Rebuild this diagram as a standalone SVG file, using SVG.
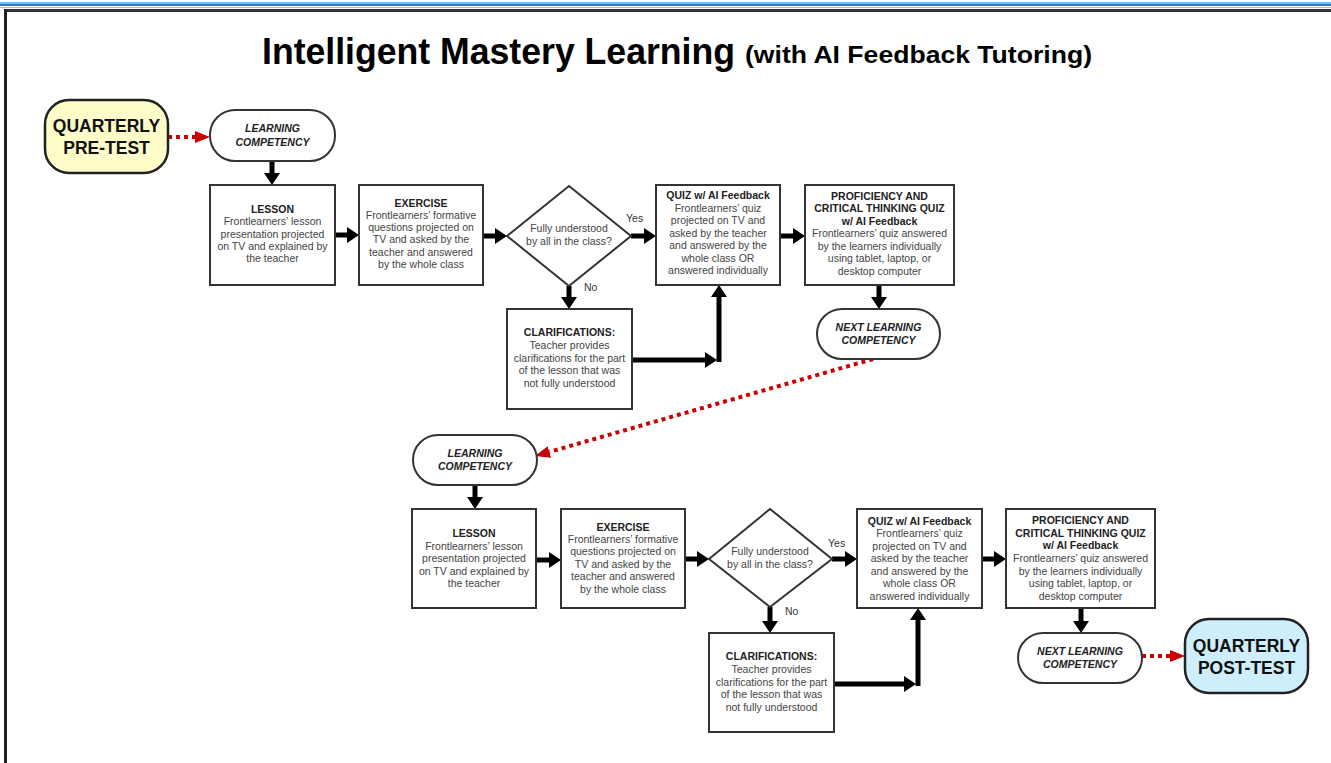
<svg xmlns="http://www.w3.org/2000/svg" width="1331" height="763" viewBox="0 0 1331 763">
<style>
.box{fill:#fff;stroke:#333;stroke-width:2}
.pill{fill:#fff;stroke:#333;stroke-width:2}
.t{font-family:"Liberation Sans",Arial,sans-serif;font-size:10.5px;fill:#444;text-anchor:middle}
.h{font-family:"Liberation Sans",Arial,sans-serif;font-size:10.5px;font-weight:bold;fill:#222;text-anchor:middle}
.hi{font-family:"Liberation Sans",Arial,sans-serif;font-size:10.5px;font-weight:bold;font-style:italic;fill:#222;text-anchor:middle}
.big{font-family:"Liberation Sans",Arial,sans-serif;font-size:17.5px;font-weight:bold;fill:#111;text-anchor:middle}
.lbl{font-family:"Liberation Sans",Arial,sans-serif;font-size:10.5px;fill:#333}
.c{stroke:#000;stroke-width:5;fill:none}
.r{stroke:#cc0000;stroke-width:4;stroke-dasharray:4 4;fill:none}
</style>
<defs>
<marker id="ah" markerUnits="userSpaceOnUse" markerWidth="12" markerHeight="16" viewBox="0 0 12 16" refX="0" refY="8" orient="auto"><path d="M0,0 L12,8 L0,16 z" fill="#000"/></marker>
<marker id="rh" markerUnits="userSpaceOnUse" markerWidth="15" markerHeight="12" viewBox="0 0 15 12" refX="0" refY="6" orient="auto"><path d="M0,0 L15,6 L0,12 z" fill="#cc0000"/></marker>
</defs>
<rect width="1331" height="763" fill="#fff"/>
<g id="frame">
<rect x="0" y="2" width="1331" height="2" fill="#7fbde8"/>
<rect x="0" y="4" width="1331" height="2" fill="#1f7fd0"/>
<rect x="0" y="7" width="1331" height="1" fill="#b0b8c0"/>
<rect x="4" y="9" width="1327" height="3" fill="#333"/>
<rect x="4" y="9" width="3" height="754" fill="#222"/>
</g>
<g id="title">
<text x="262" y="64" font-family="'Liberation Sans Narrow','Liberation Sans',Arial,sans-serif" font-size="37" font-weight="bold" fill="#000" textLength="473" lengthAdjust="spacingAndGlyphs">Intelligent Mastery Learning</text>
<text x="745" y="63" font-family="'Liberation Sans Narrow','Liberation Sans',Arial,sans-serif" font-size="24" font-weight="bold" fill="#000" textLength="347" lengthAdjust="spacingAndGlyphs">(with AI Feedback Tutoring)</text>
</g>
<g id="connectors">
<line class="r" x1="168" y1="137" x2="195" y2="137" marker-end="url(#rh)"/>
<line class="c" x1="272" y1="161" x2="272" y2="173" marker-end="url(#ah)"/>
<line class="c" x1="335" y1="235" x2="347" y2="235" marker-end="url(#ah)"/>
<line class="c" x1="483" y1="236" x2="495" y2="236" marker-end="url(#ah)"/>
<line class="c" x1="631" y1="236" x2="644" y2="236" marker-end="url(#ah)"/>
<line class="c" x1="780" y1="236" x2="793" y2="236" marker-end="url(#ah)"/>
<line class="c" x1="569" y1="286" x2="569" y2="297" marker-end="url(#ah)"/>
<line class="c" x1="632" y1="360" x2="705" y2="360" marker-end="url(#ah)"/>
<line class="c" x1="719" y1="362" x2="719" y2="297" marker-end="url(#ah)"/>
<line class="c" x1="879" y1="285" x2="879" y2="297" marker-end="url(#ah)"/>
<line class="r" x1="873" y1="359" x2="549.4" y2="451.9" marker-end="url(#rh)"/>
<line class="c" x1="475" y1="485" x2="475" y2="497" marker-end="url(#ah)"/>
<line class="c" x1="536" y1="560" x2="549" y2="560" marker-end="url(#ah)"/>
<line class="c" x1="685" y1="559" x2="697" y2="559" marker-end="url(#ah)"/>
<line class="c" x1="832" y1="559" x2="845" y2="559" marker-end="url(#ah)"/>
<line class="c" x1="982" y1="559" x2="994" y2="559" marker-end="url(#ah)"/>
<line class="c" x1="770" y1="607" x2="770" y2="621" marker-end="url(#ah)"/>
<line class="c" x1="834" y1="684" x2="904" y2="684" marker-end="url(#ah)"/>
<line class="c" x1="918" y1="686" x2="918" y2="620" marker-end="url(#ah)"/>
<line class="c" x1="1081" y1="608" x2="1081" y2="621" marker-end="url(#ah)"/>
<line class="r" x1="1142" y1="656" x2="1170" y2="656" marker-end="url(#rh)"/>
<text class="lbl" x="626" y="222">Yes</text>
<text class="lbl" x="584" y="291">No</text>
<text class="lbl" x="828" y="547">Yes</text>
<text class="lbl" x="785" y="615">No</text>
</g>
<g id="pretest">
<rect x="45" y="100" width="123" height="73" rx="24" fill="#fefcc8" stroke="#222" stroke-width="2.5"/>
<text class="big" x="106.5" y="132">QUARTERLY</text>
<text class="big" x="106.5" y="154">PRE-TEST</text>
</g>
<g id="lc1">
<rect class="pill" x="210" y="110" width="125" height="51" rx="25"/>
<text class="hi" x="272.5" y="132">LEARNING</text>
<text class="hi" x="272.5" y="146">COMPETENCY</text>
</g>
<g id="lesson1">
<rect class="box" x="210" y="185" width="125" height="100"/>
<text class="h" x="272.5" y="213">LESSON</text>
<text class="t" x="272.5" y="225">Frontlearners’ lesson</text>
<text class="t" x="272.5" y="238">presentation projected</text>
<text class="t" x="272.5" y="250">on TV and explained by</text>
<text class="t" x="272.5" y="262">the teacher</text>
</g>
<g id="exercise1">
<rect class="box" x="359" y="185" width="124" height="100"/>
<text class="h" x="421" y="207">EXERCISE</text>
<text class="t" x="421" y="219">Frontlearners’ formative</text>
<text class="t" x="421" y="231">questions projected on</text>
<text class="t" x="421" y="243">TV and asked by the</text>
<text class="t" x="421" y="256">teacher and answered</text>
<text class="t" x="421" y="268">by the whole class</text>
</g>
<g id="decision1">
<polygon points="507,236 569,186 631,236 569,286" fill="#fff" stroke="#333" stroke-width="2"/>
<text class="t" x="569" y="232">Fully understood</text>
<text class="t" x="569" y="245">by all in the class?</text>
</g>
<g id="quiz1">
<rect class="box" x="656" y="185" width="124" height="100"/>
<text class="h" x="718" y="199">QUIZ w/ AI Feedback</text>
<text class="t" x="718" y="212">Frontlearners’ quiz</text>
<text class="t" x="718" y="224">projected on TV and</text>
<text class="t" x="718" y="237">asked by the teacher</text>
<text class="t" x="718" y="249">and answered by the</text>
<text class="t" x="718" y="262">whole class OR</text>
<text class="t" x="718" y="274">answered individually</text>
</g>
<g id="prof1">
<rect class="box" x="805" y="185" width="149" height="100"/>
<text class="h" x="879.5" y="200">PROFICIENCY AND</text>
<text class="h" x="879.5" y="212">CRITICAL THINKING QUIZ</text>
<text class="h" x="879.5" y="225">w/ AI Feedback</text>
<text class="t" x="879.5" y="237">Frontlearners’ quiz answered</text>
<text class="t" x="879.5" y="250">by the learners individually</text>
<text class="t" x="879.5" y="262">using tablet, laptop, or</text>
<text class="t" x="879.5" y="275">desktop computer</text>
</g>
<g id="next1">
<rect class="pill" x="817" y="309" width="123" height="50" rx="25"/>
<text class="hi" x="878.5" y="331">NEXT LEARNING</text>
<text class="hi" x="878.5" y="344">COMPETENCY</text>
</g>
<g id="clar1">
<rect class="box" x="507" y="309" width="125" height="100"/>
<text class="h" x="569.5" y="336">CLARIFICATIONS:</text>
<text class="t" x="569.5" y="349">Teacher provides</text>
<text class="t" x="569.5" y="362">clarifications for the part</text>
<text class="t" x="569.5" y="374">of the lesson that was</text>
<text class="t" x="569.5" y="387">not fully understood</text>
</g>
<g id="lc2">
<rect class="pill" x="413" y="435" width="124" height="50" rx="25"/>
<text class="hi" x="475" y="457">LEARNING</text>
<text class="hi" x="475" y="470">COMPETENCY</text>
</g>
<g id="lesson2">
<rect class="box" x="412" y="509" width="124" height="99"/>
<text class="h" x="474" y="537">LESSON</text>
<text class="t" x="474" y="550">Frontlearners’ lesson</text>
<text class="t" x="474" y="562">presentation projected</text>
<text class="t" x="474" y="575">on TV and explained by</text>
<text class="t" x="474" y="587">the teacher</text>
</g>
<g id="exercise2">
<rect class="box" x="561" y="509" width="124" height="99"/>
<text class="h" x="623" y="531">EXERCISE</text>
<text class="t" x="623" y="543">Frontlearners’ formative</text>
<text class="t" x="623" y="555">questions projected on</text>
<text class="t" x="623" y="568">TV and asked by the</text>
<text class="t" x="623" y="580">teacher and answered</text>
<text class="t" x="623" y="593">by the whole class</text>
</g>
<g id="decision2">
<polygon points="709,559 770,509 832,559 770,607" fill="#fff" stroke="#333" stroke-width="2"/>
<text class="t" x="770" y="555">Fully understood</text>
<text class="t" x="770" y="568">by all in the class?</text>
</g>
<g id="quiz2">
<rect class="box" x="857" y="509" width="125" height="99"/>
<text class="h" x="919.5" y="525">QUIZ w/ AI Feedback</text>
<text class="t" x="919.5" y="537">Frontlearners’ quiz</text>
<text class="t" x="919.5" y="550">projected on TV and</text>
<text class="t" x="919.5" y="562">asked by the teacher</text>
<text class="t" x="919.5" y="575">and answered by the</text>
<text class="t" x="919.5" y="587">whole class OR</text>
<text class="t" x="919.5" y="600">answered individually</text>
</g>
<g id="prof2">
<rect class="box" x="1006" y="509" width="149" height="99"/>
<text class="h" x="1080.5" y="524">PROFICIENCY AND</text>
<text class="h" x="1080.5" y="537">CRITICAL THINKING QUIZ</text>
<text class="h" x="1080.5" y="549">w/ AI Feedback</text>
<text class="t" x="1080.5" y="562">Frontlearners’ quiz answered</text>
<text class="t" x="1080.5" y="575">by the learners individually</text>
<text class="t" x="1080.5" y="587">using tablet, laptop, or</text>
<text class="t" x="1080.5" y="600">desktop computer</text>
</g>
<g id="next2">
<rect class="pill" x="1018" y="633" width="124" height="50" rx="25"/>
<text class="hi" x="1080" y="655">NEXT LEARNING</text>
<text class="hi" x="1080" y="668">COMPETENCY</text>
</g>
<g id="clar2">
<rect class="box" x="709" y="633" width="125" height="99"/>
<text class="h" x="771.5" y="660">CLARIFICATIONS:</text>
<text class="t" x="771.5" y="673">Teacher provides</text>
<text class="t" x="771.5" y="686">clarifications for the part</text>
<text class="t" x="771.5" y="698">of the lesson that was</text>
<text class="t" x="771.5" y="711">not fully understood</text>
</g>
<g id="posttest">
<rect x="1185" y="619" width="123" height="74" rx="24" fill="#cdeefa" stroke="#222" stroke-width="2.5"/>
<text class="big" x="1246.5" y="652">QUARTERLY</text>
<text class="big" x="1246.5" y="674">POST-TEST</text>
</g>
</svg>
